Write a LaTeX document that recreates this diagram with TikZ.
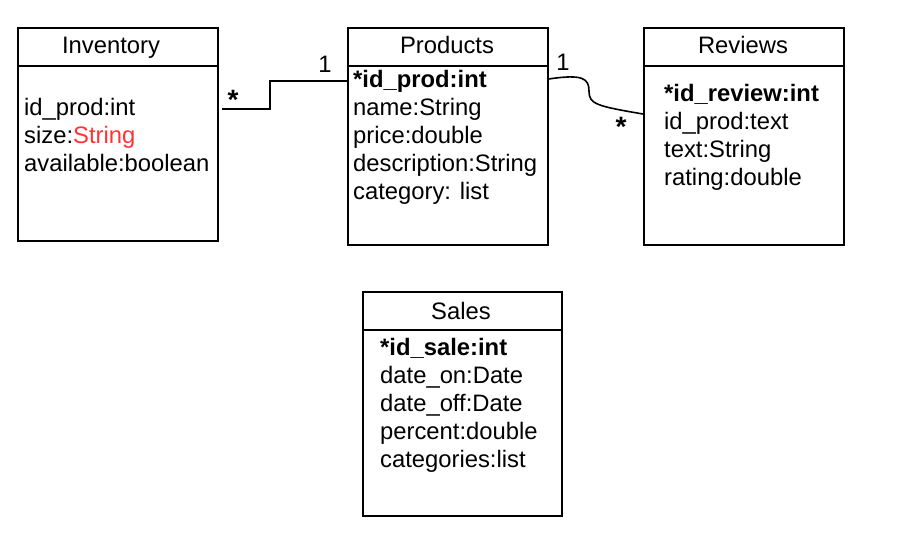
\documentclass[tikz,border=0pt]{standalone}
\usepackage{fontspec}
\setmainfont{Liberation Sans}
\begin{document}
\begin{tikzpicture}[x=1pt,y=-1pt,
  entity/.style={draw,line width=1.6pt,rectangle,inner sep=0pt},
  sep/.style={line width=1.6pt},
  conn/.style={line width=1.6pt},
  ttl/.style={inner sep=0pt,anchor=base,font=\fontsize{23.8}{28}\selectfont},
  attr/.style={inner sep=0pt,anchor=base west,align=left,font=\fontsize{23.8}{28}\selectfont},
  mult/.style={inner sep=0pt,anchor=base,font=\fontsize{23.8}{28}\selectfont}]
\definecolor{attred}{HTML}{FF3333}
\useasboundingbox (0,0) rectangle (900,542);
% boxes
\node[entity,minimum width=200pt,minimum height=213pt,anchor=north west] (inv) at (17,27) {};
\node[entity,minimum width=200pt,minimum height=217pt,anchor=north west] (prod) at (347,27) {};
\node[entity,minimum width=200pt,minimum height=217pt,anchor=north west] (rev) at (643,27) {};
\node[entity,minimum width=199pt,minimum height=224pt,anchor=north west] (sal) at (362,291) {};
% header separators
\draw[sep] (17,66) -- (217,66);
\draw[sep] (347,66) -- (547,66);
\draw[sep] (643,66) -- (843,66);
\draw[sep] (362,330) -- (561,330);
% titles
\node[ttl] (invt) at (111,53) {Inventory};
\node[ttl] (prodt) at (447,53) {Products};
\node[ttl] (revt) at (743,53) {Reviews};
\node[ttl] (salt) at (461,319) {Sales};
% attributes (anchor = baseline of last line)
\node[attr] (inva) at (24,171) {id\_prod:int\\size:\textcolor{attred}{String}\\available:boolean};
\node[attr] (proda) at (353,199) {\textbf{*id\_prod:int}\\name:String\\price:double\\description:String\\category: list};
\node[attr] (reva) at (664,185) {\textbf{*id\_review:int}\\id\_prod:text\\text:String\\rating:double};
\node[attr] (sala) at (380,467) {\textbf{*id\_sale:int}\\date\_on:Date\\date\_off:Date\\percent:double\\categories:list};
% connectors
\coordinate (c1) at (222,109);
\coordinate (c2) at (prod.west |- 0,81);
\draw[conn] (c1) -- (270,109) |- (c2);
\coordinate (c3) at (prod.east |- 0,79);
\coordinate (c4) at (rev.west |- 0,114);
\draw[conn] (c3) .. controls (582,74) and (589,78) .. (589,91)
  .. controls (589,104) and (596,106) .. (c4);
% multiplicities
\node[mult,font=\fontsize{28}{30}\selectfont\bfseries] (m1) at (233,109) {*};
\node[mult] (m2) at (325,72) {1};
\node[mult] (m3) at (563,70) {1};
\node[mult,font=\fontsize{28}{30}\selectfont\bfseries] (m4) at (621,136) {*};
\end{tikzpicture}
\end{document}
